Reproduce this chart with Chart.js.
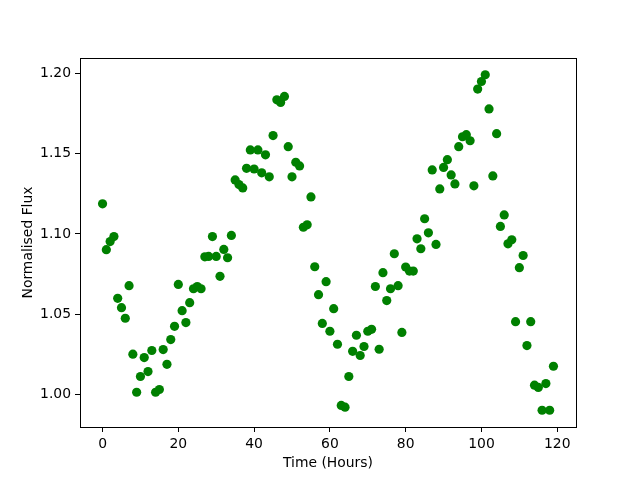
<!DOCTYPE html>
<html>
<head>
<meta charset="utf-8">
<script src="https://cdn.jsdelivr.net/npm/chart.js@4/dist/chart.umd.min.js"></script>
<style>
  html, body { margin: 0; padding: 0; background: #fff; }
  canvas { display: block; }
</style>
</head>
<body>
<canvas id="myChart" width="640" height="480"></canvas>
<script>
// hours 0..119, one reading per hour
const hours = [];
for (let h = 0; h < 120; h++) hours.push(h);

const flux = [
  1.1188, 1.0902, 1.0953, 1.0984, 1.0599, 1.0541, 1.0475, 1.0678, 1.0251, 1.0014,
  1.0112, 1.0230, 1.0143, 1.0274, 1.0014, 1.0031, 1.0280, 1.0188, 1.0342, 1.0425,
  1.0686, 1.0522, 1.0448, 1.0572, 1.0659, 1.0673, 1.0659, 1.0858, 1.0860, 1.0984,
  1.0860, 1.0736, 1.0904, 1.0852, 1.0991, 1.1337, 1.1308, 1.1287, 1.1409, 1.1524,
  1.1405, 1.1524, 1.1381, 1.1493, 1.1356, 1.1613, 1.1836, 1.1820, 1.1857, 1.1544,
  1.1356, 1.1447, 1.1424, 1.1042, 1.1057, 1.1231, 1.0796, 1.0622, 1.0443, 1.0703,
  1.0394, 1.0535, 1.0313, 0.9932, 0.9921, 1.0112, 1.0269, 1.0369, 1.0243, 1.0299,
  1.0394, 1.0406, 1.0673, 1.0282, 1.0759, 1.0585, 1.0659, 1.0877, 1.0678, 1.0387,
  1.0794, 1.0769, 1.0769, 1.0970, 1.0908, 1.1095, 1.1007, 1.1399, 1.0935, 1.1281,
  1.1415, 1.1463, 1.1368, 1.1312, 1.1544, 1.1606, 1.1619, 1.1581, 1.1300, 1.1903,
  1.1950, 1.1992, 1.1779, 1.1362, 1.1625, 1.1047, 1.1119, 1.0939, 1.0964, 1.0454,
  1.0790, 1.0866, 1.0305, 1.0454, 1.0058, 1.0044, 0.9902, 1.0068, 0.9902, 1.0176
];

const xTicks = [0, 20, 40, 60, 80, 100, 120];
const yTicks = [1.00, 1.05, 1.10, 1.15, 1.20];

const points = hours.map((h, i) => ({ x: h, y: flux[i] }));

// black box round the plot area, like matplotlib spines
const frame = {
  id: 'frame',
  afterDraw(chart) {
    const a = chart.chartArea;
    const c = chart.ctx;
    c.save();
    c.strokeStyle = '#000';
    c.lineWidth = 1;
    c.strokeRect(Math.round(a.left) + 0.5, Math.round(a.top) + 0.5,
                 Math.round(a.right - a.left), Math.round(a.bottom - a.top));
    c.restore();
  }
};

const font = { family: 'DejaVu Sans', size: 13.9 };

const ctx = document.getElementById('myChart').getContext('2d');
const myChart = new Chart(ctx, {
  type: 'scatter',
  data: {
    datasets: [{
      data: points,
      backgroundColor: '#008000',
      borderColor: '#008000',
      borderWidth: 0,
      pointRadius: 4.6,
      pointHoverRadius: 4.6
    }]
  },
  options: {
    responsive: false,
    animation: false,
    layout: { padding: { top: 58, right: 64, left: 0, bottom: 0 } },
    plugins: { legend: { display: false }, tooltip: { enabled: false } },
    scales: {
      x: {
        type: 'linear',
        min: -5.95,
        max: 124.95,
        afterBuildTicks: s => { s.ticks = xTicks.map(v => ({ value: v })); },
        afterFit: s => { s.height = 53; },
        border: { display: false },
        grid: { drawOnChartArea: false, drawTicks: true, tickLength: 5, color: '#000' },
        ticks: { color: '#000', font: font, padding: 4, maxRotation: 0 },
        title: { display: true, text: 'Time (Hours)', color: '#000', font: font, padding: { top: 0, bottom: 8 } }
      },
      y: {
        type: 'linear',
        min: 0.97975,
        max: 1.20965,
        afterBuildTicks: s => { s.ticks = yTicks.map(v => ({ value: v })); },
        afterFit: s => { s.width = 80; },
        border: { display: false },
        grid: { drawOnChartArea: false, drawTicks: true, tickLength: 5, color: '#000' },
        ticks: { color: '#000', font: font, padding: 4, callback: v => v.toFixed(2) },
        title: { display: true, text: 'Normalised Flux', color: '#000', font: font, padding: { top: 20, bottom: 0 } }
      }
    }
  },
  plugins: [frame]
});
</script>
</body>
</html>
